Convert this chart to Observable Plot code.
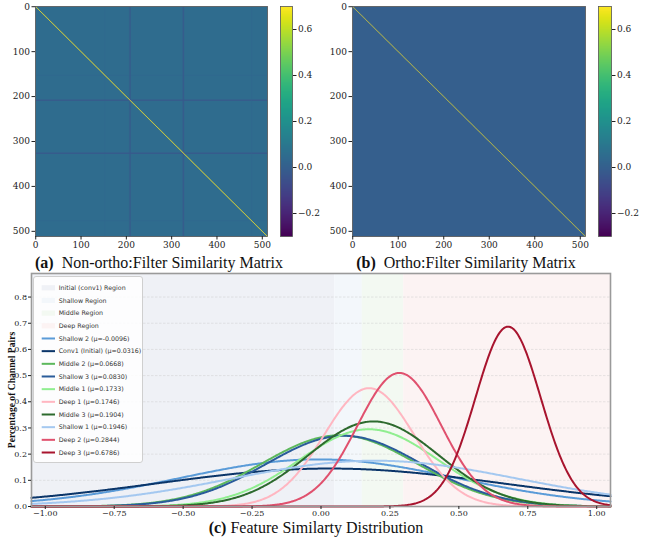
<!DOCTYPE html>
<html><head><meta charset="utf-8">
<script src="https://cdn.jsdelivr.net/npm/d3@7"></script>
<script src="https://cdn.jsdelivr.net/npm/@observablehq/plot@0.6"></script>
<style>
body{margin:0;background:#fff;}
#root{position:relative;width:649px;height:538px;overflow:hidden;background:#fff;}
.cap{position:absolute;font-family:"Liberation Serif",serif;font-size:16px;line-height:16px;color:#111;white-space:nowrap;transform:translate(-50%,-50%);}
.ylab{position:absolute;font-family:"Liberation Serif",serif;font-weight:bold;font-size:9.6px;line-height:10px;color:#111;white-space:nowrap;transform:translate(-50%,-50%) rotate(-90deg);}
</style></head><body><div id="root"></div>
<script>
// ---------- data: similarity matrices ----------
const matrixSize = 512;
const matrixTicks = [0, 100, 200, 300, 400, 500];
const colorbarTicks = [-0.2, 0.0, 0.2, 0.4, 0.6];
const colorDomain = [-0.3, 0.7];
const diagonalValue = 1.0;
const nonOrthoBase = 0.05;
const nonOrthoStripeIdx = [153, 208, 326, 477];
const nonOrthoStripeVal = [0.03, -0.02, -0.02, 0.025];
const nonOrthoStripeHalf = [0, 1, 1, 0];
const orthoBase = 0.0;
const orthoStripeIdx = [];
const orthoStripeVal = [];
const orthoStripeHalf = [];

// ---------- data: feature similarity distribution ----------
const seriesNames = ["Shallow 2 (μ=-0.0096)", "Conv1 (Initial) (μ=0.0316)", "Middle 2 (μ=0.0668)", "Shallow 3 (μ=0.0830)", "Middle 1 (μ=0.1733)", "Deep 1 (μ=0.1746)", "Middle 3 (μ=0.1904)", "Shallow 1 (μ=0.1946)", "Deep 2 (μ=0.2844)", "Deep 3 (μ=0.6786)"];
const seriesMu    = [-0.0096, 0.0316, 0.0668, 0.0830, 0.1733, 0.1746, 0.1904, 0.1946, 0.2844, 0.6786];
const seriesPeak  = [0.180, 0.145, 0.272, 0.270, 0.295, 0.452, 0.325, 0.175, 0.510, 0.687];
const seriesSigma = [0.50, 0.63, 0.28, 0.28, 0.25, 0.163, 0.235, 0.52, 0.152, 0.118];
const seriesColors = ["#5a9bd8", "#0a3569", "#5cb85c", "#2a5c9a", "#90ee90", "#ffb6c1", "#2d6a2e", "#a4c8f0", "#e0516e", "#a8142e"];
const regionNames = ["Initial (conv1) Region", "Shallow Region", "Middle Region", "Deep Region"];
const regionBounds = [-1.05, 0.05, 0.15, 0.30, 1.05];
const regionColors = ["#eff1f6", "#f3f7fb", "#f3f9f2", "#fcf3f3"];
const distXTicks = [-1.0, -0.75, -0.5, -0.25, 0.0, 0.25, 0.5, 0.75, 1.0];
const distYTicks = [0.0, 0.1, 0.2, 0.3, 0.4, 0.5, 0.6, 0.7, 0.8];
const distXDomain = [-1.05, 1.05];
const distYDomain = [0, 0.89];

// ---------- helpers ----------
const root = document.getElementById("root");
function place(node, left, top) {
  node.style.position = "absolute";
  node.style.left = left + "px";
  node.style.top = top + "px";
  root.appendChild(node);
}
function text(cls, html, x, y) {
  const d = document.createElement("div");
  d.className = cls; d.innerHTML = html;
  d.style.left = x + "px"; d.style.top = y + "px";
  root.appendChild(d);
}
const colorScale = {type: "linear", scheme: "viridis", domain: colorDomain, clamp: true};
const fmt1 = d3.format(".1f");
const fmt2 = d3.format(".2f");

function matrixFill(base, idx, val, half) {
  return (x, y) => {
    const i = Math.round(x), j = Math.round(y);
    if (i === j) return diagonalValue;
    let v = base;
    idx.forEach((s, k) => { if (Math.abs(i - s) <= half[k] || Math.abs(j - s) <= half[k]) v = val[k]; });
    return v;
  };
}

function heatmap(fill, diagWidth, diagOpacity, w, h, mL, mR, mT, mB) {
  return Plot.plot({
    width: w, height: h, marginLeft: mL, marginRight: mR, marginTop: mT, marginBottom: mB,
    style: {fontFamily: "DejaVu Serif", fontSize: "9px", color: "#222", background: "transparent"},
    x: {domain: [-0.5, matrixSize - 0.5]},
    y: {domain: [-0.5, matrixSize - 0.5], reverse: true},
    color: colorScale,
    marks: [
      Plot.raster({x1: -0.5, x2: matrixSize - 0.5, y1: -0.5, y2: matrixSize - 0.5, width: matrixSize, height: matrixSize, fill}),
      Plot.link([diagonalValue], {x1: -0.5, y1: -0.5, x2: matrixSize - 0.5, y2: matrixSize - 0.5, stroke: d => d, strokeWidth: diagWidth, strokeOpacity: diagOpacity}),
      Plot.frame({stroke: "#555", strokeWidth: 0.8}),
      Plot.axisX(matrixTicks, {tickSize: 3.5, tickPadding: 2, label: null}),
      Plot.axisY(matrixTicks, {tickSize: 3.5, tickPadding: 2, label: null})
    ]
  });
}
function colorbar(w, h, mL, mR, mT, mB) {
  return Plot.plot({
    width: w, height: h, marginLeft: mL, marginRight: mR, marginTop: mT, marginBottom: mB,
    style: {fontFamily: "DejaVu Serif", fontSize: "9px", color: "#222", background: "transparent"},
    x: {domain: [0, 1], axis: null},
    y: {domain: colorDomain},
    color: colorScale,
    marks: [
      Plot.raster({x1: 0, x2: 1, y1: colorDomain[0], y2: colorDomain[1], width: 1, height: 256, fill: (x, y) => y}),
      Plot.frame({stroke: "#555", strokeWidth: 0.8}),
      Plot.axisY(colorbarTicks, {anchor: "right", tickSize: 3.5, tickPadding: 2, tickFormat: fmt1, label: null})
    ]
  });
}

// ---------- top panels ----------
place(heatmap(matrixFill(nonOrthoBase, nonOrthoStripeIdx, nonOrthoStripeVal, nonOrthoStripeHalf), 0.9, 0.65, 275, 258, 35, 8, 6, 22), 0, 0);
place(colorbar(60, 250, 10, 38, 6, 14), 270, 0);
place(heatmap(matrixFill(orthoBase, orthoStripeIdx, orthoStripeVal, orthoStripeHalf), 0.6, 0.55, 275, 258, 36, 6, 6, 22), 316, 0);
place(colorbar(60, 250, 10, 37, 6, 14), 588, 0);

text("cap", "<b>(a)</b>&nbsp; Non-ortho:Filter Similarity Matrix", 159, 263);
text("cap", "<b>(b)</b>&nbsp; Ortho:Filter Similarity Matrix", 466, 263);

// ---------- bottom panel ----------
const regions = regionNames.map((name, k) => ({name, start: regionBounds[k], end: regionBounds[k + 1]}));
const curves = seriesNames.flatMap((name, k) =>
  d3.range(distXDomain[0], distXDomain[1] + 1e-9, 0.004).map(x => ({
    name, x, y: seriesPeak[k] * Math.exp(-((x - seriesMu[k]) ** 2) / (2 * seriesSigma[k] ** 2))
  }))
);
const dist = Plot.plot({
  width: 649, height: 273, marginLeft: 31, marginRight: 39, marginTop: 8, marginBottom: 32,
  style: {fontFamily: "DejaVu Serif", fontSize: "8px", color: "#222", background: "transparent"},
  x: {domain: distXDomain},
  y: {domain: distYDomain},
  color: {type: "ordinal", domain: [...regionNames, ...seriesNames], range: [...regionColors, ...seriesColors]},
  marks: [
    Plot.rect(regions, {x1: "start", x2: "end", y1: distYDomain[0], y2: distYDomain[1], fill: "name"}),
    Plot.gridY(distYTicks.slice(1), {stroke: "#c8c8c8", strokeOpacity: 0.7, strokeDasharray: "2.5,1.5", strokeWidth: 0.6}),
    Plot.line(curves, {x: "x", y: "y", z: "name", stroke: "name", strokeWidth: 2, curve: "linear"}),
    Plot.frame({stroke: "#9a9a9a", strokeWidth: 1.6}),
    Plot.axisX(distXTicks, {tickSize: 3, tickPadding: 1, tickFormat: fmt2, label: null}),
    Plot.axisY(distYTicks, {tickSize: 3, tickPadding: 1.5, tickFormat: fmt1, label: null})
  ]
});
place(dist, 0, 265);

text("ylab", "Percentage of Channel Pairs", 12, 390);
text("cap", "<b>(c)</b> Feature Similarty Distribution", 316, 528);

// ---------- legend ----------
const legendItems = [
  ...regionNames.map((n, k) => ({label: n, color: regionColors[k], kind: "patch"})),
  ...seriesNames.map((n, k) => ({label: n, color: seriesColors[k], kind: "line"}))
];
const lw = 110, lh = 187;
const lsvg = d3.create("svg").attr("width", lw).attr("height", lh);
lsvg.append("rect").attr("x", 0.5).attr("y", 0.5).attr("width", lw - 1).attr("height", lh - 1)
  .attr("rx", 2.5).attr("fill", "#fff").attr("fill-opacity", 0.85).attr("stroke", "#cfcfcf").attr("stroke-width", 1);
legendItems.forEach((it, i) => {
  const y = 11.8 + i * 12.67;
  if (it.kind === "patch") {
    lsvg.append("rect").attr("x", 8.7).attr("y", y - 2.6).attr("width", 13.3).attr("height", 5.2).attr("fill", it.color);
  } else {
    lsvg.append("line").attr("x1", 8.7).attr("x2", 22).attr("y1", y).attr("y2", y).attr("stroke", it.color).attr("stroke-width", 2);
  }
  lsvg.append("text").attr("x", 25.7).attr("y", y).attr("dy", "0.35em")
    .attr("font-family", "DejaVu Sans").attr("font-size", 6.3).attr("fill", "#333").text(it.label);
});
place(lsvg.node(), 33, 276);
</script>
</body></html>
